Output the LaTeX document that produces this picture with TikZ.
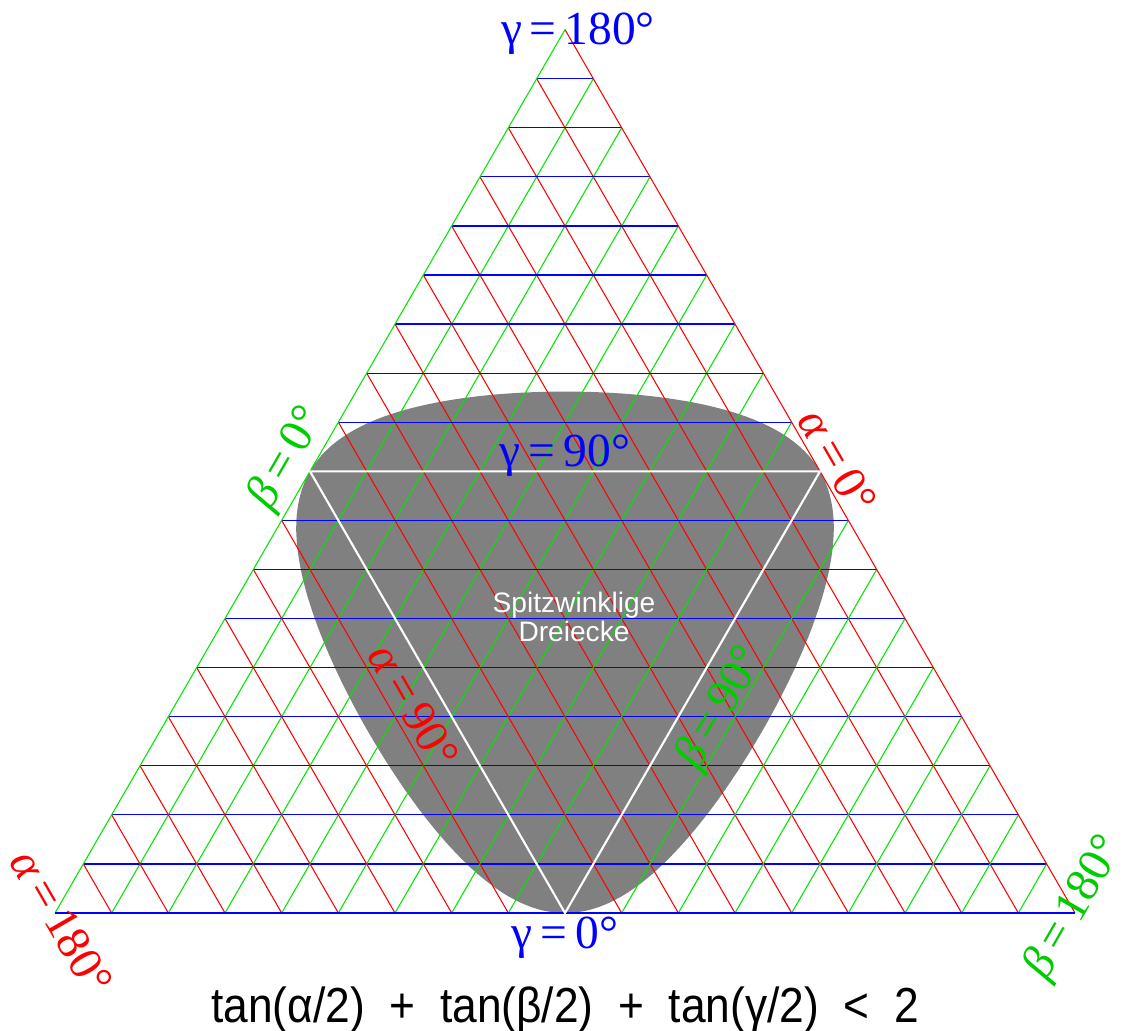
\documentclass[tikz,border=0pt]{standalone}
\usepackage{fontspec}
\setmainfont{Liberation Serif}
\newfontfamily\sansfont{Liberation Sans}
\usetikzlibrary{calc}

\definecolor{labelgreen}{RGB}{0,205,0}

\begin{document}
\begin{tikzpicture}[
		x=0.01cm, y=0.01cm,
		alphaline/.style={red, line width=0.3pt},
		betaline/.style={green!90!black, line width=0.3pt},
		gammaline/.style={blue, line width=0.35pt},
		rightline/.style={white, line width=0.6pt},
		anglelabel/.style={font=\fontsize{13.5}{15}\selectfont, inner sep=1pt},
		alphalabel/.style={anglelabel, red},
		betalabel/.style={anglelabel, labelgreen},
		gammalabel/.style={anglelabel, blue, anchor=base},
		declare function={
			gammat(\t)=106.26*sin(\t)^2;
			cosd(\g)=min(1,2*cos(\g/2)/(2-tan(\g/2))-sin(\g/2));
			dmax(\t)=acos(cosd(gammat(\t)));
		}
		]
		\useasboundingbox (0,0) rectangle (1128,1030);
		
		% Corners: alpha=180 at A, beta=180 at B, gamma=180 at C
		\coordinate (A) at (55,117);
		\coordinate (B) at (1075,117);
		\coordinate (C) at (565,1000.35);
		\coordinate (anull) at ($(B)!0.5!(C)$);
		\coordinate (bnull) at ($(A)!0.5!(C)$);
		\coordinate (gnull) at ($(A)!0.5!(B)$);
		
		% Region tan(alpha/2)+tan(beta/2)+tan(gamma/2) < 2
		\fill[gray] plot[domain=0:90, samples=150, variable=\t] ({565-5.6667*dmax(\t)}, {117+4.9075*gammat(\t)})
			-- plot[domain=90:0, samples=150, variable=\t] ({565+5.6667*dmax(\t)}, {117+4.9075*gammat(\t)}) -- cycle;
		
		% Draw the 10 degree grid
		\foreach \k in {1,...,17} {
			\draw[betaline] ($(A)!\k/18!(B)$) -- ($(C)!\k/18!(B)$);
			\draw[alphaline] ($(B)!\k/18!(A)$) -- ($(C)!\k/18!(A)$);
			\draw[gammaline] ($(A)!\k/18!(C)$) -- ($(B)!\k/18!(C)$);
		}
		\draw[betaline] (A) -- (C);
		\draw[alphaline] (B) -- (C);
		\draw[gammaline] (A) -- (B);
		
		% Right angled triangles
		\draw[rightline] (bnull) -- (anull) -- (gnull) -- cycle;
		
		% Labels
		\node[gammalabel] (g180) at (578,985) {γ\,=\,180°};
		\node[gammalabel] (g90) at (565,563) {γ\,=\,90°};
		\node[gammalabel] (g0) at (565,82) {γ\,=\,0°};
		\node[alphalabel, rotate=-60, anchor=south] (a0) at (anull) {\textit{α}\,=\,0°};
		\node[betalabel, rotate=60, anchor=south] (b0) at (bnull) {\textit{β}\,=\,0°};
		\node[alphalabel, rotate=-60, anchor=north, inner sep=3pt] (a90) at ($(bnull)!0.5!(gnull)$) {\textit{α}\,=\,90°};
		\node[betalabel, rotate=60, anchor=north, inner sep=3pt] (b90) at ($(anull)!0.5!(gnull)$) {\textit{β}\,=\,90°};
		\node[alphalabel, rotate=-60] (a180) at (62,108) {\textit{α}\,=\,180°};
		\node[betalabel, rotate=60] (b180) at (1075,122) {\textit{β}\,=\,180°};
		
		\node[white, align=center, font=\sansfont\fontsize{8}{7.4}\selectfont] (spitz) at (574,413) {Spitzwinklige\\Dreiecke};
		\node[anchor=base, xscale=0.9, font=\sansfont\fontsize{14}{16}\selectfont] (formel) at (565,8)
			{tan(α/2) \ + \ tan(β/2) \ + \ tan(γ/2) \ < \ 2};
		
	\end{tikzpicture}
\end{document}
